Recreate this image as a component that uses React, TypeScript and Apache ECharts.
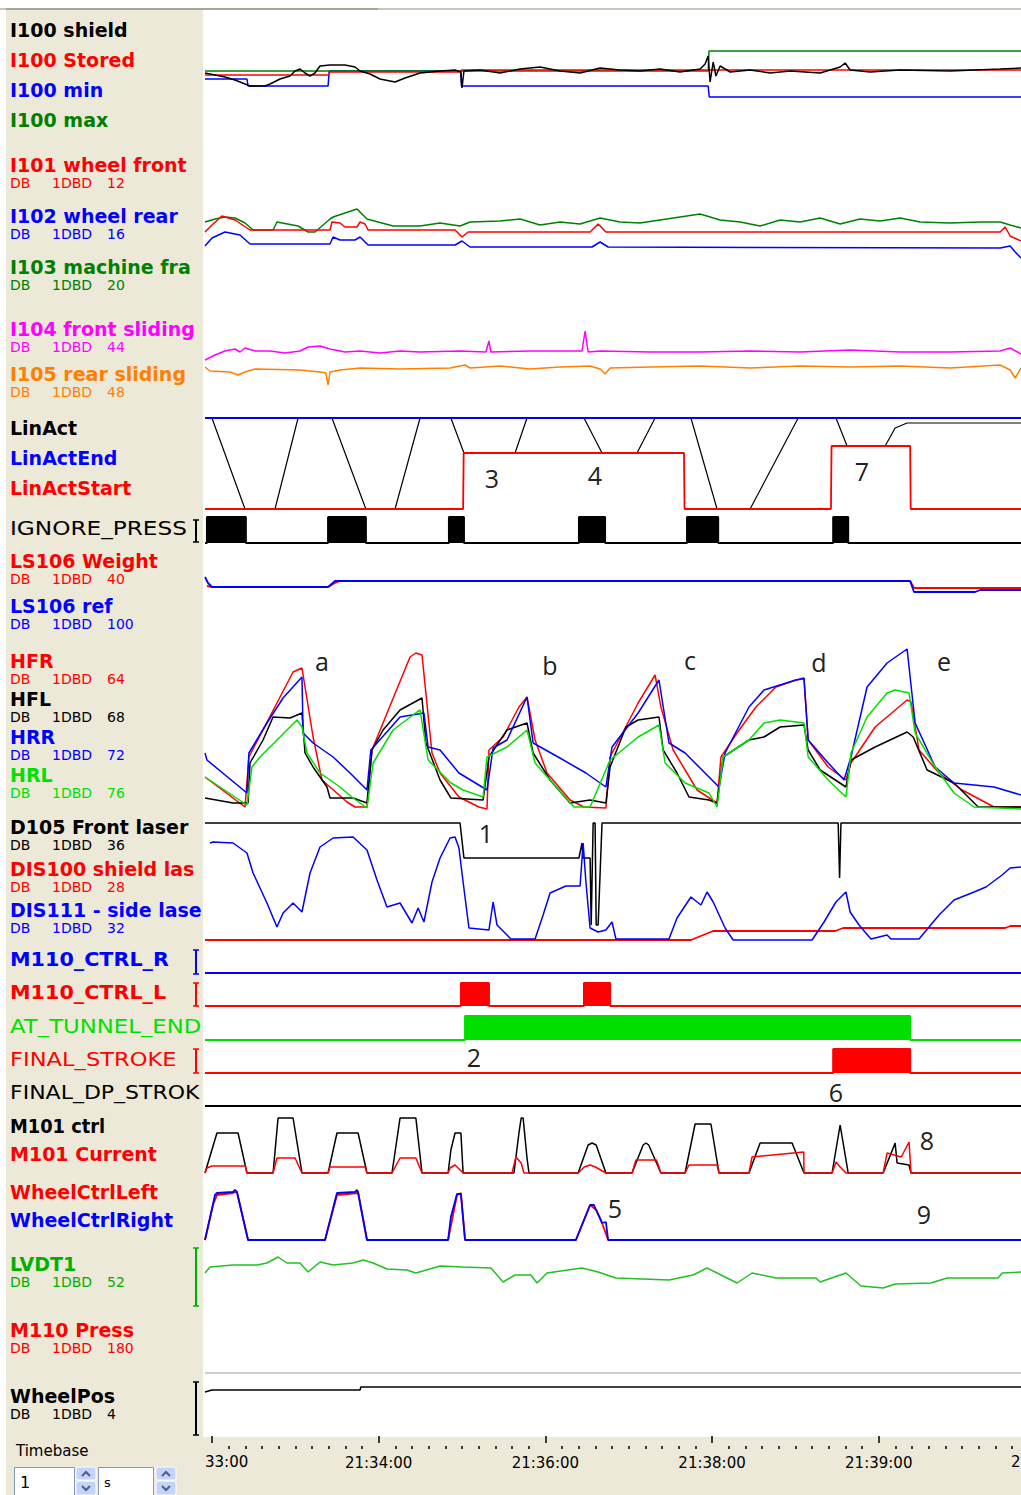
import React, { useEffect, useRef } from "react";
import * as echarts from "echarts";

type Pt = [number, number];

const T_MIN = -2.5;
const T_MAX = 291.2;

// time axis (seconds after 21:33:00)
const majorTicks = [0, 60, 120, 180, 240];
const labelTicks = [60, 120, 180, 240];
const tickLabels = ["21:34:00", "21:36:00", "21:38:00", "21:39:00"];

// ---- I100 ----
const i100Max: Pt[] = [[-2.5, 39], [178.6, 39], [178.9, 59], [291.2, 59]];
const i100Stored: Pt[] = [[-2.5, 35], [42, 35], [42.5, 38], [89.5, 38], [89.8, 40], [291.2, 40]];
const i100Min: Pt[] = [[-2.5, 31], [12.6, 31], [13, 24], [41.8, 24], [42.2, 39], [89.5, 39], [89.8, 24], [178.6, 24], [179, 13], [291.2, 13]];
const i100Shield: Pt[] = [[-2.5, 37], [1.1, 35], [4.7, 33], [8.3, 30], [11.9, 26], [13.7, 24], [19.1, 24], [20.9, 26], [24.5, 31], [28.1, 34], [29.9, 39], [31.7, 41], [33.5, 37], [35.3, 34], [37.1, 37], [38.9, 44], [42.5, 45], [47.9, 45], [51.5, 43], [53.3, 39], [56.9, 36], [60.5, 31], [65.9, 28], [69.5, 32], [74.9, 37], [82.1, 39], [87.5, 40], [89.6, 38], [90, 22], [90.7, 39], [96.5, 40], [103.7, 37], [110.9, 41], [118.1, 43], [125.3, 39], [132.5, 37], [139.7, 42], [146.9, 40], [154.1, 39], [161.3, 41], [168.5, 38], [175.7, 41], [177.5, 46], [178.6, 54], [179.3, 28], [180.4, 48], [181.4, 34], [182.9, 44], [186.5, 38], [193.7, 40], [200.9, 37], [208.1, 39], [218.9, 37], [226.1, 43], [227.9, 47], [229.7, 40], [236.9, 38], [247.7, 40], [265.7, 39], [283.7, 41], [291.2, 42]];

// ---- I101..I103 ----
const i103Frame: Pt[] = [[-2.5, 38], [1.1, 41], [4.7, 43], [8.3, 42], [11.9, 37], [14.8, 30], [22, 30], [23.4, 38], [31, 34], [34.6, 28], [37.1, 28], [42.5, 41], [43.6, 43], [52.2, 51], [55.8, 41], [65.2, 34], [74.9, 34], [82.1, 37], [89.3, 34], [92.9, 38], [103.7, 39], [110.9, 41], [118.1, 35], [125.3, 38], [132.5, 36], [139.7, 42], [146.9, 38], [154.1, 37], [161.3, 40], [175.7, 46], [182.9, 40], [190.1, 38], [197.3, 34], [204.5, 40], [211.7, 38], [218.9, 42], [226.1, 36], [233.3, 41], [240.5, 39], [247.7, 42], [254.9, 38], [265.7, 37], [276.5, 38], [283.7, 38], [287.3, 35], [291.2, 32]];
const i101Front: Pt[] = [[-2.5, 28], [0, 35], [3.6, 44], [8.3, 40], [13.7, 30], [42.5, 30], [43.2, 38], [46.1, 37], [47.9, 33], [52.2, 33], [53.3, 38], [55.1, 36], [56.2, 30], [87.5, 30], [90, 23], [92.2, 28], [136.1, 28], [139, 36], [141.8, 28], [283.7, 28], [285.5, 33], [287.3, 24], [291.2, 19]];
const i102Rear: Pt[] = [[-2.5, 14], [0, 22], [4.7, 28], [10.1, 25], [13.7, 16], [42.5, 16], [43.6, 23], [46.1, 20], [51.5, 20], [53.3, 23], [56.2, 15], [87.5, 15], [90, 19], [92.9, 13], [136.8, 13], [139.7, 18], [142.6, 13], [283.7, 12], [287.3, 14], [289.1, 8], [291.2, 2]];

// ---- I104 / I105 ----
const i104Front: Pt[] = [[-2.5, 35], [1.1, 40], [4.7, 44], [8.3, 46], [10.1, 43], [11.9, 47], [15.5, 44], [20.9, 44], [26.3, 42], [31.7, 44], [34.6, 48], [38.9, 49], [42.5, 46], [47.9, 43], [53.3, 44], [60.5, 42], [67.7, 44], [74.9, 43], [89.3, 44], [98.6, 43], [99.7, 54], [100.4, 43], [114.5, 44], [133.2, 44], [134.3, 64], [135.4, 43], [139.7, 44], [157.7, 43], [175.7, 43], [193.7, 44], [211.7, 43], [229.7, 45], [247.7, 43], [265.7, 43], [283.7, 44], [287.3, 47], [291.2, 41]];
const i105Rear: Pt[] = [[-2.5, 28], [-0.7, 24], [6.5, 23], [9.4, 20], [11.9, 23], [15.5, 26], [31.7, 25], [38.9, 23], [41, 22], [41.8, 10], [42.5, 23], [46.1, 25], [53.3, 27], [67.7, 26], [85.7, 27], [91.1, 30], [92.9, 27], [103.7, 29], [114.5, 26], [125.3, 28], [136.1, 29], [139.7, 26], [141.5, 21], [143.3, 27], [157.7, 28], [175.7, 29], [193.7, 27], [211.7, 29], [229.7, 28], [247.7, 29], [265.7, 27], [283.7, 30], [287.3, 25], [289.1, 17], [291.2, 27]];

// ---- LinAct ----
const linActEnd: Pt[] = [[-2.5, 94], [291.2, 94]];
const linActStart: Pt[] = [[-2.5, 3], [90.4, 3], [90.6, 59], [169.9, 59], [170.1, 3], [222.8, 3], [223, 66], [251.3, 66], [251.5, 3], [291.2, 3]];
const linAct: Pt[] = [[-2.5, 94], [0, 94], [11.9, 3], [22.7, 3], [31, 94], [43.2, 94], [55.4, 3], [65.9, 3], [74.9, 94], [86, 94], [90.7, 59], [109.1, 59], [113.4, 94], [133.9, 94], [140.4, 59], [153, 59], [159.5, 94], [172.4, 94], [181.8, 3], [193.7, 3], [211, 94], [224.6, 94], [228.6, 66], [242.3, 66], [245.9, 84], [250.2, 89], [291.2, 89]];

// ---- digital signals (on intervals, s) ----
const ignorePressOn: Pt[] = [[-1.8, 12.2], [41.8, 55.4], [85.3, 90.7], [132.1, 141.5], [171, 182.2], [223.6, 229]];
const m110CtrlROn: Pt[] = [];
const m110CtrlLOn: Pt[] = [[89.6, 99.7], [133.9, 143.3]];
const atTunnelEndOn: Pt[] = [[91.1, 251.3]];
const finalStrokeOn: Pt[] = [[223.6, 251.3]];
const finalDpStrokeOn: Pt[] = [];

// ---- LS106 ----
const ls106Weight: Pt[] = [[-1.8, 14], [0, 13], [41.8, 13], [44.3, 17], [46.1, 19], [251.3, 19], [252.7, 12], [291.2, 12]];
const ls106Ref: Pt[] = [[-2.5, 23], [-1.4, 17], [0, 13], [41.8, 13], [44.3, 19], [251.3, 19], [252.7, 8], [274.7, 8], [276.5, 10], [291.2, 10]];

// ---- pressures ----
const hfr: Pt[] = [[-2.5, 35], [11.9, 5], [13.3, 55], [29.2, 140], [32.4, 144], [36.4, 75], [39.6, 32], [48.6, 10], [51.5, 5], [55.8, 5], [57.6, 62], [71.3, 155], [73.4, 159], [75.6, 157], [79.2, 59], [82.1, 39], [88.9, 15], [96.1, 5], [99, 3], [99.7, 62], [104.8, 75], [110.5, 105], [113.4, 115], [116.3, 72], [120.6, 39], [128.9, 12], [133.9, 5], [141.8, 4], [143.3, 55], [153.4, 109], [159.5, 137], [161.6, 105], [166, 62], [174.6, 22], [181.8, 9], [183.2, 55], [189, 79], [195.8, 105], [203, 125], [210.2, 132], [213.1, 133], [214.6, 72], [221.8, 45], [228.2, 32], [230, 49], [238.7, 85], [250.2, 112], [251.6, 110], [254.5, 62], [261.7, 39], [270, 22], [281.5, 5], [291.2, 5]];
const hfl: Pt[] = [[-2.5, 14], [7.6, 9], [13, 9], [13.7, 49], [18.4, 72], [22, 95], [28.1, 94], [32.4, 99], [33.5, 59], [36.4, 45], [41.4, 25], [42.5, 14], [50.8, 14], [55.8, 9], [57.6, 62], [61.6, 82], [67.7, 102], [75.6, 114], [77, 69], [82.1, 32], [86, 14], [97.6, 12], [99.7, 55], [106.2, 82], [113.4, 89], [115.6, 59], [121.7, 32], [128.9, 9], [136.1, 12], [141.8, 9], [143.3, 45], [149, 85], [153.4, 92], [160.9, 95], [162.4, 62], [167.4, 39], [171.7, 15], [178.9, 12], [181.8, 9], [184, 55], [193.3, 72], [198.7, 75], [204.5, 85], [213.1, 87], [214.6, 62], [218.9, 42], [228.2, 25], [230, 52], [238.7, 65], [250.2, 80], [252.4, 75], [257.4, 42], [267.1, 29], [275.8, 5], [291.2, 5]];
const hrr: Pt[] = [[-2.5, 59], [-1.8, 52], [12.6, 19], [13.3, 59], [19.8, 89], [25.6, 114], [32.4, 135], [32.8, 79], [36.4, 69], [43.6, 55], [49.7, 39], [55.8, 22], [57.2, 62], [67.7, 95], [76.3, 99], [77.8, 65], [82.1, 62], [88.9, 39], [99, 22], [101.2, 64], [106.2, 72], [113.4, 115], [115.6, 69], [124.6, 55], [134.6, 39], [141.8, 25], [144, 65], [153.4, 99], [160.9, 132], [164.5, 69], [170.3, 59], [178.9, 35], [182.5, 25], [184.7, 59], [193.3, 105], [198.7, 122], [210.2, 132], [213.1, 134], [214.6, 72], [221.8, 49], [227.5, 32], [230, 55], [235.8, 125], [243, 149], [250.2, 163], [253.1, 89], [260.3, 45], [267.1, 29], [281.5, 25], [291.2, 17]];
const hrl: Pt[] = [[-2.5, 35], [12.6, 7], [14.4, 45], [17.3, 55], [24.5, 75], [30.6, 92], [32.4, 85], [34.2, 59], [38.9, 39], [46.1, 25], [50.8, 14], [55.8, 4], [58, 49], [65.2, 82], [73.8, 100], [74.9, 102], [77.8, 52], [86, 29], [90.4, 22], [97.6, 15], [99, 55], [106.2, 65], [113.4, 82], [116.3, 49], [121.7, 32], [130.3, 5], [136.1, 5], [143.3, 52], [153.4, 75], [160.9, 87], [163.1, 49], [170.3, 29], [178.9, 19], [181.8, 5], [184, 55], [193.3, 72], [198.7, 89], [204.5, 92], [213.1, 89], [214.6, 55], [221.8, 32], [228.2, 15], [230, 59], [235.8, 95], [243, 119], [245.9, 122], [250.9, 119], [253.1, 79], [260.3, 45], [267.1, 19], [274.3, 5], [291.2, 3]];

// ---- lasers ----
const d105Front: Pt[] = [[-2.5, 122], [89.3, 122], [90.7, 87], [132.1, 87], [133.2, 102], [133.6, 87], [136.1, 87], [136.5, 20], [137.2, 122], [137.9, 122], [138.3, 20], [139, 20], [140.4, 122], [225.4, 122], [225.9, 67], [226.4, 122], [291.2, 122]];
const dis100Shield: Pt[] = [[-2.5, 5], [172.4, 5], [180.4, 14], [224.3, 14], [227.2, 17], [285.5, 17], [287.3, 19], [291.2, 19]];
const dis111Side: Pt[] = [[-0.7, 102], [0.4, 103], [7.6, 102], [12.6, 92], [14.8, 72], [19.8, 42], [23.4, 18], [25.6, 32], [29.2, 42], [32.4, 33], [35.3, 72], [38.9, 98], [43.6, 107], [50.8, 108], [55.8, 95], [59.4, 65], [63, 38], [67.7, 42], [72, 22], [74.2, 37], [76.3, 23], [79.2, 63], [82.1, 87], [85.7, 107], [87.5, 108], [88.9, 97], [90.4, 63], [92.5, 17], [99.7, 15], [101.2, 43], [102.6, 20], [106.2, 10], [107.6, 6], [116.3, 6], [119.2, 30], [121.7, 52], [127.4, 59], [132.5, 59], [133.6, 102], [134.6, 63], [136.1, 17], [139, 13], [141.8, 15], [144, 23], [145.4, 6], [164.5, 6], [167.4, 27], [172.4, 48], [176, 40], [178.2, 53], [180.4, 43], [184.7, 17], [187.6, 5], [216, 5], [220.3, 23], [224.6, 43], [228.2, 53], [229.7, 33], [232.9, 20], [237.2, 6], [243, 10], [244.4, 6], [254.5, 6], [261.7, 30], [267.1, 45], [274.3, 53], [278.6, 58], [284.4, 70], [287.3, 77], [291.2, 78]];

// ---- M101 ----
const m101Ctrl: Pt[] = [[-2.5, 5], [1.8, 45], [9.4, 45], [12.6, 5], [22, 5], [23.8, 60], [29.2, 60], [32.4, 5], [41.8, 5], [45, 45], [52.6, 45], [55.8, 5], [64.8, 5], [67.7, 60], [73.4, 60], [75.6, 5], [85, 5], [86, 28], [87.5, 45], [89.6, 45], [90.4, 5], [108.7, 5], [110.5, 45], [111.3, 60], [112, 60], [113.4, 20], [114.1, 5], [131.8, 5], [135.4, 33], [136.8, 35], [138.3, 33], [141.8, 5], [151.2, 5], [155.2, 33], [156.2, 35], [157.2, 33], [161.6, 5], [170.3, 5], [173.9, 54], [179.6, 54], [182.5, 5], [193.3, 5], [197.3, 35], [208.8, 35], [213.1, 5], [223.2, 5], [226.1, 53], [229, 5], [241.6, 5], [245.9, 35], [246.6, 15], [250.9, 13], [251.6, 5], [291.2, 5]];
const m101Current: Pt[] = [[-2.5, 5], [-1.8, 10], [0, 12], [12, 12], [12.6, 5], [22, 5], [23.4, 20], [29.9, 20], [32.4, 5], [41.8, 5], [42.5, 11], [55.1, 11], [55.8, 5], [64.8, 5], [67.7, 20], [73.4, 20], [75.6, 5], [85, 5], [85.7, 10], [87.5, 13], [90.4, 5], [108, 5], [109.4, 21], [111.3, 15], [112.3, 5], [131.8, 5], [134, 11], [136.1, 13], [138, 11], [141.8, 5], [151.2, 5], [152.6, 18], [160, 18], [161.6, 5], [170.3, 5], [171.7, 13], [181.8, 13], [182.5, 5], [193.3, 5], [194.4, 21], [213, 26], [213.1, 5], [223.2, 5], [224.6, 16], [226.1, 11], [228.2, 5], [241.6, 5], [243, 25], [248.1, 21], [250.9, 36], [251.6, 5], [291.2, 5]];

// ---- wheel control ----
const wheelCtrlLeft: Pt[] = [[-2.5, 5], [0.4, 40], [1.8, 50], [7.6, 52], [9, 53], [13, 5], [40.7, 5], [45, 50], [52.6, 52], [55.8, 5], [85, 5], [88.2, 50], [89.6, 52], [91.1, 5], [131, 5], [136.1, 40], [138.3, 35], [140, 25], [142.6, 5], [291.2, 5]];
const wheelCtrlRight: Pt[] = [[-2.5, 5], [1.1, 50], [1.8, 52], [7.6, 53], [8.3, 55], [9, 53], [13, 5], [40.7, 5], [45, 52], [51.5, 53], [52.2, 55], [52.6, 53], [55.8, 5], [85, 5], [86, 28], [88.2, 51], [89.6, 51], [91.1, 5], [131, 5], [136.1, 40], [137.5, 40], [140.4, 22], [141.8, 23], [142.6, 5], [291.2, 5]];

// ---- LVDT1 ----
const lvdt1: Pt[] = [[-2.5, 37], [-0.7, 43], [7.6, 45], [16.2, 45], [19.8, 47], [23.8, 53], [27, 47], [31.7, 47], [34.6, 38], [38.9, 48], [43.6, 45], [50.8, 47], [54.4, 50], [58, 47], [63, 41], [70.2, 40], [73.4, 37], [82.1, 44], [90.4, 43], [100.4, 42], [104.8, 28], [109.1, 35], [114.8, 35], [117, 27], [120.6, 37], [133.2, 42], [139, 38], [145.4, 32], [164.5, 30], [173.2, 35], [178.2, 42], [181.8, 37], [189, 27], [194.4, 37], [203, 32], [217.4, 32], [218.9, 28], [228.2, 37], [233.6, 24], [241.6, 22], [245.9, 26], [258.8, 27], [264.6, 32], [283, 32], [284.4, 37], [291.2, 38]];

// ---- WheelPos ----
const wheelPos: Pt[] = [[-2.5, 44], [0, 46], [53.3, 46], [53.6, 49], [291.2, 49]];

// ---- channel labels ----
const BOLD = "bold 19px 'DejaVu Sans'";
const NORM = "20px 'DejaVu Sans'";
const channelLabels: [string, string, number, string, string?][] = [
  ["I100 shield", "#000000", 30, BOLD],
  ["I100 Stored", "#ff0000", 60, BOLD],
  ["I100 min", "#0000ff", 90, BOLD],
  ["I100 max", "#008000", 120, BOLD],
  ["I101 wheel front", "#ff0000", 165, BOLD, "12"],
  ["I102 wheel rear", "#0000ff", 216, BOLD, "16"],
  ["I103 machine frame", "#008000", 267, BOLD, "20"],
  ["I104 front sliding position", "#ff00ff", 329, BOLD, "44"],
  ["I105 rear sliding position", "#ff8000", 374, BOLD, "48"],
  ["LinAct", "#000000", 428, BOLD],
  ["LinActEnd", "#0000ff", 458, BOLD],
  ["LinActStart", "#ff0000", 488, BOLD],
  ["IGNORE_PRESS", "#000000", 528, NORM],
  ["LS106 Weight", "#ff0000", 561, BOLD, "40"],
  ["LS106 ref", "#0000ff", 606, BOLD, "100"],
  ["HFR", "#ff0000", 661, BOLD, "64"],
  ["HFL", "#000000", 699, BOLD, "68"],
  ["HRR", "#0000ff", 737, BOLD, "72"],
  ["HRL", "#00e000", 775, BOLD, "76"],
  ["D105 Front laser", "#000000", 827, BOLD, "36"],
  ["DIS100 shield laser", "#ff0000", 869, BOLD, "28"],
  ["DIS111 - side laser", "#0000ff", 910, BOLD, "32"],
  ["M110_CTRL_R", "#0000ff", 960, BOLD],
  ["M110_CTRL_L", "#ff0000", 993, BOLD],
  ["AT_TUNNEL_END", "#00e000", 1026, NORM],
  ["FINAL_STROKE", "#ff0000", 1059, NORM],
  ["FINAL_DP_STROKE", "#000000", 1092, NORM],
  ["M101 ctrl", "#000000", 1126, BOLD],
  ["M101 Current", "#ff0000", 1154, BOLD],
  ["WheelCtrlLeft", "#ff0000", 1192, BOLD],
  ["WheelCtrlRight", "#0000ff", 1220, BOLD],
  ["LVDT1", "#00b000", 1264, BOLD, "52"],
  ["M110 Press", "#ff0000", 1330, BOLD, "180"],
  ["WheelPos", "#000000", 1396, BOLD, "4"],
];
// horizontal stretch of the wide capital labels
const labelStretch: Record<string, number> = {
  IGNORE_PRESS: 1.16, AT_TUNNEL_END: 1.14, FINAL_STROKE: 1.13, FINAL_DP_STROKE: 1.1,
  M110_CTRL_R: 1.09, M110_CTRL_L: 1.09, "M101 ctrl": 0.94,
};

// annotation marks
const notes: [string, number, number][] = [
  ["a", 322, 661], ["b", 550, 665], ["c", 690, 660], ["d", 819, 662], ["e", 944, 661],
  ["1", 486, 833], ["2", 474, 1057], ["3", 492, 478], ["4", 595, 475], ["5", 615, 1208],
  ["6", 836, 1092], ["7", 862, 471], ["8", 927, 1140], ["9", 924, 1214],
];

// range brackets: [color, top, bottom]
const brackets: [string, number, number][] = [
  ["#000000", 520, 542], ["#0000ff", 950, 974], ["#ff0000", 983, 1006],
  ["#ff0000", 1049, 1073], ["#00b000", 1248, 1306], ["#000000", 1382, 1435],
];

function buildOption() {
  const grids: any[] = [];
  const xAxes: any[] = [];
  const yAxes: any[] = [];
  const series: any[] = [];
  const L = 205, W = 816;

  const lane = (top: number, height: number, ymax: number) => {
    const i = grids.length;
    grids.push({ left: L, width: W, top, height, containLabel: false });
    xAxes.push({ type: "value", gridIndex: i, min: T_MIN, max: T_MAX, show: false });
    yAxes.push({ type: "value", gridIndex: i, min: 0, max: ymax, show: false });
    return i;
  };
  const line = (i: number, data: Pt[], color: string, width = 1.5) => {
    series.push({
      type: "line", xAxisIndex: i, yAxisIndex: i, data, symbol: "none", showSymbol: false,
      lineStyle: { color, width }, clip: false, silent: true, animation: false,
    });
  };
  const digital = (i: number, on: Pt[], color: string) => {
    const pts: Pt[] = [[T_MIN, 0]];
    on.forEach(([a, b]) => { pts.push([a, 0], [a, 1], [b, 1], [b, 0]); });
    pts.push([T_MAX, 0]);
    series.push({
      type: "line", xAxisIndex: i, yAxisIndex: i, data: pts, symbol: "none", showSymbol: false,
      lineStyle: { color, width: 2 }, areaStyle: { color, opacity: 1 }, clip: false, silent: true,
    });
  };

  let g = lane(40, 70, 70);
  line(g, i100Min, "#0000ff"); line(g, i100Max, "#008000"); line(g, i100Stored, "#ff0000"); line(g, i100Shield, "#000000");
  g = lane(195, 65, 65);
  line(g, i103Frame, "#008000"); line(g, i101Front, "#ff0000"); line(g, i102Rear, "#0000ff");
  g = lane(320, 75, 75);
  line(g, i104Front, "#ff00ff"); line(g, i105Rear, "#ff8000");
  g = lane(412, 100, 100);
  line(g, linAct, "#000000", 1.2); line(g, linActStart, "#ff0000", 1.8); line(g, linActEnd, "#0000ff", 2);
  g = lane(517, 26, 1); digital(g, ignorePressOn, "#000000");
  g = lane(560, 40, 40);
  line(g, ls106Weight, "#ff0000", 1.8); line(g, ls106Ref, "#0000ff", 1.8);
  g = lane(640, 172, 172);
  line(g, hfr, "#ff0000"); line(g, hfl, "#000000"); line(g, hrr, "#0000ff"); line(g, hrl, "#00e000");
  g = lane(815, 130, 130);
  line(g, d105Front, "#000000"); line(g, dis100Shield, "#ff0000", 1.8); line(g, dis111Side, "#0000ff");
  g = lane(950, 23, 1); digital(g, m110CtrlROn, "#0000ff");
  g = lane(983, 23, 1); digital(g, m110CtrlLOn, "#ff0000");
  g = lane(1016, 24, 1); digital(g, atTunnelEndOn, "#00e000");
  g = lane(1049, 24, 1); digital(g, finalStrokeOn, "#ff0000");
  g = lane(1083, 23, 1); digital(g, finalDpStrokeOn, "#000000");
  g = lane(1110, 68, 68);
  line(g, m101Ctrl, "#000000"); line(g, m101Current, "#ff0000");
  g = lane(1185, 60, 60);
  line(g, wheelCtrlLeft, "#ff0000", 1.8); line(g, wheelCtrlRight, "#0000ff", 1.8);
  g = lane(1245, 65, 65);
  line(g, lvdt1, "#22c022");
  const wp = lane(1378, 58, 58);
  line(wp, wheelPos, "#000000", 1.5);

  // visible time axis on the last grid
  xAxes[wp] = {
    type: "value", gridIndex: wp, min: T_MIN, max: T_MAX, position: "bottom", offset: 6,
    axisLine: { show: false }, splitLine: { show: false },
    axisTick: { show: true, customValues: majorTicks, length: 7, lineStyle: { color: "#000", width: 1.5 } },
    axisLabel: {
      show: true, customValues: labelTicks, margin: 13, color: "#000", fontFamily: "DejaVu Sans", fontSize: 15,
      formatter: (v: number) => tickLabels[labelTicks.indexOf(Math.round(v))] ?? "",
    },
  };
  const minorTicks: number[] = [];
  for (let t = 6; t < T_MAX; t += 6) if (t % 60 !== 0) minorTicks.push(t);
  xAxes.push({
    type: "value", gridIndex: wp, min: T_MIN, max: T_MAX, position: "bottom", offset: 10,
    axisLine: { show: false }, splitLine: { show: false }, axisLabel: { show: false },
    axisTick: { show: true, customValues: minorTicks, length: 3, lineStyle: { color: "#000", width: 1.5 } },
  });

  // graphics
  const gr: any[] = [];
  gr.push({ type: "rect", z: -10, shape: { x: 0, y: 8, width: 1021, height: 2 }, style: { fill: "#c9c6bb" } });
  gr.push({ type: "rect", z: -10, shape: { x: 6, y: 8, width: 372, height: 2 }, style: { fill: "#a8a496" } });
  gr.push({ type: "rect", z: -10, shape: { x: 6, y: 10, width: 197, height: 1485 }, style: { fill: "#ece9d8" } });
  gr.push({ type: "rect", z: -10, shape: { x: 6, y: 1437, width: 1015, height: 58 }, style: { fill: "#ece9d8" } });
  gr.push({ type: "line", z: -5, shape: { x1: 205, y1: 1373, x2: 1021, y2: 1373 }, style: { stroke: "#cccccc", lineWidth: 2 } });

  channelLabels.forEach(([text, color, y, font, sub]) => {
    const sx = labelStretch[text] ?? 1;
    gr.push({
      type: "text", z: 5, x: 10, y, scaleX: sx, style: {
        text, x: 0, y: 0, fill: color, font, verticalAlign: "middle", align: "left",
        width: 193 / sx, overflow: "truncate", ellipsis: "",
      },
    });
    if (sub) {
      const sf = "14px 'DejaVu Sans'";
      const sy = y + 18;
      gr.push({ type: "text", z: 5, style: { text: "DB", x: 10, y: sy, fill: color, font: sf, verticalAlign: "middle" } });
      gr.push({ type: "text", z: 5, style: { text: "1DBD", x: 52, y: sy, fill: color, font: sf, verticalAlign: "middle" } });
      gr.push({ type: "text", z: 5, style: { text: sub, x: 107, y: sy, fill: color, font: sf, verticalAlign: "middle" } });
    }
  });

  brackets.forEach(([color, y1, y2]) => {
    gr.push({ type: "line", z: 5, shape: { x1: 196, y1, x2: 196, y2 }, style: { stroke: color, lineWidth: 2 } });
    gr.push({ type: "line", z: 5, shape: { x1: 193, y1, x2: 199, y2: y1 }, style: { stroke: color, lineWidth: 1.5 } });
    gr.push({ type: "line", z: 5, shape: { x1: 193, y1: y2, x2: 199, y2 }, style: { stroke: color, lineWidth: 1.5 } });
  });

  notes.forEach(([text, x, y]) => {
    gr.push({ type: "text", z: 20, style: { text, x, y, fill: "#222222", font: "25px 'Open Sans'", align: "center", verticalAlign: "middle" } });
  });

  // clipped edge time labels
  gr.push({ type: "text", z: 5, style: { text: "33:00", x: 205, y: 1462, fill: "#000", font: "15px 'DejaVu Sans'", verticalAlign: "middle" } });
  gr.push({ type: "text", z: 5, style: { text: "2", x: 1011, y: 1462, fill: "#000", font: "15px 'DejaVu Sans'", verticalAlign: "middle" } });

  // timebase controls
  gr.push({ type: "text", z: 5, style: { text: "Timebase", x: 16, y: 1451, fill: "#000", font: "15px 'DejaVu Sans'", verticalAlign: "middle" } });
  const box = (x: number, w: number, text: string, font: string) => {
    gr.push({ type: "rect", z: 5, shape: { x: x + 0.5, y: 1467.5, width: w, height: 30 }, style: { fill: "#ffffff", stroke: "#7f9db9", lineWidth: 1 } });
    gr.push({ type: "text", z: 6, style: { text, x: x + 6, y: 1482, fill: "#000", font, verticalAlign: "middle" } });
  };
  const spin = (x: number) => {
    gr.push({ type: "rect", z: 5, shape: { x, y: 1467, width: 20, height: 13, r: 2 }, style: { fill: "#c3d3fb", stroke: "#ffffff", lineWidth: 1 } });
    gr.push({ type: "rect", z: 5, shape: { x, y: 1481, width: 20, height: 14, r: 2 }, style: { fill: "#c3d3fb", stroke: "#ffffff", lineWidth: 1 } });
    gr.push({ type: "polyline", z: 6, shape: { points: [[x + 6, 1476], [x + 10, 1472], [x + 14, 1476]] }, style: { stroke: "#4d6185", lineWidth: 2, fill: null } });
    gr.push({ type: "polyline", z: 6, shape: { points: [[x + 6, 1486], [x + 10, 1490], [x + 14, 1486]] }, style: { stroke: "#4d6185", lineWidth: 2, fill: null } });
  };
  box(14, 60, "1", "16px 'DejaVu Sans'");
  spin(76);
  box(98, 55, "s", "13px 'DejaVu Sans'");
  spin(156);

  return {
    animation: false,
    backgroundColor: "#ffffff",
    grid: grids,
    xAxis: xAxes,
    yAxis: yAxes,
    series,
    graphic: { elements: gr },
  };
}

export default function App() {
  const ref = useRef<HTMLDivElement>(null);
  useEffect(() => {
    if (!ref.current) return;
    const chart = echarts.init(ref.current, undefined, { renderer: "svg" });
    chart.setOption(buildOption() as any);
    return () => chart.dispose();
  }, []);
  return (
    <div
      ref={ref}
      style={{ position: "absolute", left: 0, top: 0, width: 1021, height: 1495 }}
    />
  );
}
